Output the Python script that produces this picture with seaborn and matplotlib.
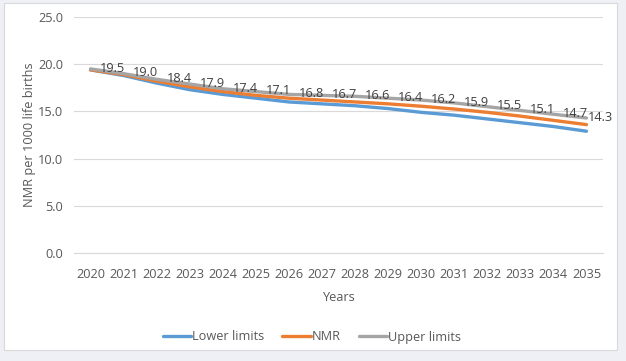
import pandas as pd
import seaborn as sns
import matplotlib.pyplot as plt
from matplotlib.patches import Rectangle

# data
years = list(range(2020, 2036))
lower_limits = [19.4, 18.8, 18.0, 17.3, 16.8, 16.4, 16.0, 15.8, 15.6, 15.3, 14.9, 14.6, 14.2, 13.8, 13.4, 12.9]
nmr = [19.4, 18.9, 18.2, 17.6, 17.1, 16.7, 16.4, 16.2, 16.0, 15.8, 15.55, 15.25, 14.9, 14.5, 14.05, 13.6]
upper_limits = [19.5, 19.0, 18.4, 17.9, 17.4, 17.1, 16.8, 16.7, 16.6, 16.4, 16.2, 15.9, 15.5, 15.1, 14.7, 14.3]

series = ['Lower limits', 'NMR', 'Upper limits']
colors = ['#5B9BD5', '#ED7D31', '#A5A5A5']

df = pd.DataFrame({
    'Year': years * 3,
    'Value': lower_limits + nmr + upper_limits,
    'Series': [s for s in series for _ in years],
})
df['pos'] = df['Year'] - years[0]

sns.set_style('white')
plt.rcParams['font.family'] = ['Open Sans', 'DejaVu Sans']
fs = 9.2

fig = plt.figure(figsize=(6.26, 3.61), dpi=100, facecolor='#eff0f5')
# white chart box with thin border
fig.patches.append(Rectangle((4 / 626, 1 - 350 / 361), 613 / 626, 347 / 361,
                             transform=fig.transFigure, facecolor='white',
                             edgecolor='#d9d9d9', linewidth=0.8, zorder=-10))
ax = fig.add_axes([74 / 626, 1 - 253 / 361, 529 / 626, 236 / 361])
ax.set_facecolor('none')

sns.lineplot(data=df, x='pos', y='Value', hue='Series', hue_order=series,
             palette=colors, linewidth=2.4, ax=ax, legend=False, zorder=3)

# data labels (upper limits) to the right of each point;
# the last one gets pushed in by the chart edge
for i, v in enumerate(upper_limits):
    dx = 1 if i == len(upper_limits) - 1 else 7
    ax.annotate(f'{v:.1f}', (i, v), xytext=(dx, 0.5), textcoords='offset points',
                ha='left', va='center', fontsize=fs, color='#404040', zorder=4)

ax.set_xlim(-0.5, len(years) - 0.5)
ax.set_ylim(0, 25)
ax.set_yticks([0, 5, 10, 15, 20, 25])
ax.set_yticklabels([f'{t:.1f}' for t in [0, 5, 10, 15, 20, 25]])
ax.set_xticks(range(len(years)))
ax.set_xticklabels([str(y) for y in years])
ax.grid(axis='y', color='#d9d9d9', linewidth=0.8)
ax.tick_params(axis='both', length=0, labelsize=fs, labelcolor='#595959')
ax.tick_params(axis='y', pad=8)
ax.tick_params(axis='x', pad=11)
for s in ['top', 'right', 'left']:
    ax.spines[s].set_visible(False)
ax.spines['bottom'].set_color('#d9d9d9')

ax.set_xlabel('Years', fontsize=fs, color='#595959', labelpad=7)
ax.set_ylabel('NMR per 1000 life births', fontsize=fs, color='#595959', labelpad=1)

handles = [plt.Line2D([], [], color=c, linewidth=2.4) for c in colors]
fig.legend(handles, series, loc='center', bbox_to_anchor=(312 / 626, 1 - 337 / 361),
           ncol=3, frameon=False, fontsize=fs, labelcolor='#595959',
           handlelength=2.2, handletextpad=0.1, columnspacing=1.4)

fig.savefig('out.png', dpi=100, facecolor=fig.get_facecolor())
